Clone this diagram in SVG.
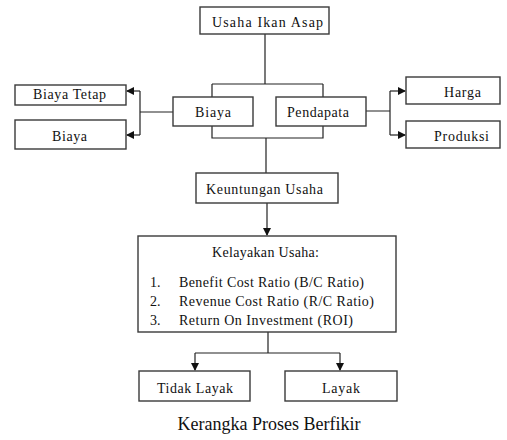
<svg xmlns="http://www.w3.org/2000/svg" width="507" height="440" viewBox="0 0 507 440">
<style>
.box{fill:#fff;stroke:#3a3a3a;stroke-width:1.4}
.t{font-family:'Liberation Serif',serif;font-size:14px;fill:#111}
.c{fill:none;stroke:#222;stroke-width:1.2}
</style>
<defs>
<marker id="ah" markerWidth="8" markerHeight="8" refX="7" refY="4" orient="auto" markerUnits="userSpaceOnUse">
<path d="M0,0 L8,4 L0,8 Z" fill="#111"/>
</marker>
</defs>
<rect width="507" height="440" fill="#fff"/>
<g id="connectors">
<path class="c" d="M265,34 V84 M212,84 H323 M212,84 V97 M323,84 V97"/>
<path class="c" d="M212,126 V138 H323 V126 M266,138 V173"/>
<path class="c" d="M173,112 H140 M140,91 V135"/>
<path class="c" d="M140,91 H127" marker-end="url(#ah)"/>
<path class="c" d="M140,135 H127" marker-end="url(#ah)"/>
<path class="c" d="M366,111 H390 M390,91 V135"/>
<path class="c" d="M390,91 H405" marker-end="url(#ah)"/>
<path class="c" d="M390,135 H405" marker-end="url(#ah)"/>
<path class="c" d="M267,203 V235" marker-end="url(#ah)"/>
<path class="c" d="M268,332 V353 M195,353 H340"/>
<path class="c" d="M195,353 V370" marker-end="url(#ah)"/>
<path class="c" d="M340,353 V370" marker-end="url(#ah)"/>
</g>
<g id="usaha-ikan-asap">
<rect class="box" x="200" y="7" width="129" height="27"/>
<text class="t" x="212" y="27" font-family="Liberation Serif, serif" textLength="111" lengthAdjust="spacing">Usaha Ikan Asap</text>
</g>
<g id="biaya-mid">
<rect class="box" x="173" y="97" width="80" height="29"/>
<text class="t" x="195" y="117" font-family="Liberation Serif, serif" textLength="36" lengthAdjust="spacing">Biaya</text>
</g>
<g id="pendapata">
<rect class="box" x="276" y="97" width="90" height="29"/>
<text class="t" x="287" y="117" font-family="Liberation Serif, serif" textLength="62" lengthAdjust="spacing">Pendapata</text>
</g>
<g id="biaya-tetap">
<rect class="box" x="15" y="85" width="111" height="20"/>
<text class="t" x="33" y="99" font-family="Liberation Serif, serif" textLength="73" lengthAdjust="spacing">Biaya Tetap</text>
</g>
<g id="biaya-left">
<rect class="box" x="15" y="120" width="111" height="29"/>
<text class="t" x="52" y="141" font-family="Liberation Serif, serif" textLength="35" lengthAdjust="spacing">Biaya</text>
</g>
<g id="harga">
<rect class="box" x="406" y="77" width="94" height="27"/>
<text class="t" x="444" y="97" font-family="Liberation Serif, serif" textLength="37" lengthAdjust="spacing">Harga</text>
</g>
<g id="produksi">
<rect class="box" x="406" y="121" width="94" height="27"/>
<text class="t" x="434" y="141" font-family="Liberation Serif, serif" textLength="55" lengthAdjust="spacing">Produksi</text>
</g>
<g id="keuntungan-usaha">
<rect class="box" x="196" y="173" width="142" height="30"/>
<text class="t" x="206" y="194" font-family="Liberation Serif, serif" textLength="117" lengthAdjust="spacing">Keuntungan Usaha</text>
</g>
<g id="kelayakan-usaha">
<rect class="box" x="138" y="236" width="258" height="96"/>
<text class="t" x="212" y="257" font-family="Liberation Serif, serif" textLength="107" lengthAdjust="spacing">Kelayakan Usaha:</text>
<text class="t" x="150" y="287" font-family="Liberation Serif, serif">1.</text>
<text class="t" x="179" y="287" font-family="Liberation Serif, serif" textLength="185" lengthAdjust="spacing">Benefit Cost Ratio (B/C Ratio)</text>
<text class="t" x="150" y="306" font-family="Liberation Serif, serif">2.</text>
<text class="t" x="179" y="306" font-family="Liberation Serif, serif" textLength="195" lengthAdjust="spacing">Revenue Cost Ratio (R/C Ratio)</text>
<text class="t" x="150" y="325" font-family="Liberation Serif, serif">3.</text>
<text class="t" x="179" y="325" font-family="Liberation Serif, serif" textLength="174" lengthAdjust="spacing">Return On Investment (ROI)</text>
</g>
<g id="tidak-layak">
<rect class="box" x="139" y="371" width="111" height="30"/>
<text class="t" x="157" y="393" font-family="Liberation Serif, serif" textLength="76" lengthAdjust="spacing">Tidak Layak</text>
</g>
<g id="layak">
<rect class="box" x="285" y="371" width="112" height="30"/>
<text class="t" x="322" y="393" font-family="Liberation Serif, serif" textLength="38" lengthAdjust="spacing">Layak</text>
</g>
<text x="269" y="430" text-anchor="middle" font-family="Liberation Serif, serif" font-size="18" fill="#111">Kerangka Proses Berfikir</text>
</svg>
